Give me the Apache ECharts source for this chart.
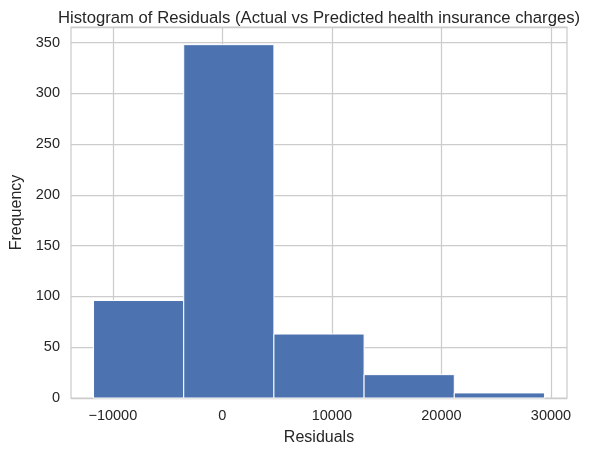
<!DOCTYPE html>
<html>
<head>
<meta charset="utf-8">
<script src="https://cdn.jsdelivr.net/npm/echarts@6/dist/echarts.min.js"></script>
<style>html,body{margin:0;padding:0;background:#fff}#c{width:603px;height:455px}</style>
</head>
<body>
<div id="c"></div>
<script>
// bin edges of the histogram (residuals)
var binEdges = [-11758, -3526, 4706, 12938, 21170, 29402];
// counts per bin
var counts = [96, 348, 63, 23, 5];
// x tick labels
var xTicks = [-10000, 0, 10000, 20000, 30000];

var data = counts.map(function (c, i) { return [binEdges[i], binEdges[i + 1], c]; });
var span = binEdges[binEdges.length - 1] - binEdges[0];
var xMin = binEdges[0] - span * 0.05;
var xMax = binEdges[binEdges.length - 1] + span * 0.05;
var yMax = Math.max.apply(null, counts) * 1.05;

var font = 'Liberation Sans, Arial, sans-serif';
var chart = echarts.init(document.getElementById('c'));
chart.setOption({
  animation: false,
  backgroundColor: '#fff',
  title: {
    text: 'Histogram of Residuals (Actual vs Predicted health insurance charges)',
    left: 314, textAlign: 'center', top: 5,
    textStyle: { fontFamily: font, fontSize: 16.7, fontWeight: 'normal', color: '#262626' }
  },
  grid: { left: 71, right: 36, top: 27, bottom: 57, show: true, borderColor: '#cccccc', borderWidth: 1.25, backgroundColor: '#fff' },
  xAxis: {
    type: 'value', min: xMin, max: xMax,
    name: 'Residuals', nameLocation: 'middle', nameGap: 32,
    nameTextStyle: { fontFamily: font, fontSize: 16, color: '#262626' },
    axisLine: { show: false },
    axisTick: { show: false, customValues: xTicks },
    axisLabel: { customValues: xTicks, fontFamily: font, fontSize: 14.5, color: '#262626', margin: 10,
      formatter: function (v) { return v < 0 ? '\u2212' + Math.abs(v) : String(v); } },
    splitLine: { show: true, lineStyle: { color: '#cccccc', width: 1.25 } }
  },
  yAxis: {
    type: 'value', min: 0, max: yMax, interval: 50,
    name: 'Frequency', nameLocation: 'middle', nameGap: 45, nameRotate: 90,
    nameTextStyle: { fontFamily: font, fontSize: 16, color: '#262626' },
    axisLine: { show: false }, axisTick: { show: false },
    axisLabel: { fontFamily: font, fontSize: 14.5, color: '#262626', margin: 11, showMaxLabel: false },
    splitLine: { show: true, lineStyle: { color: '#cccccc', width: 1.25 } }
  },
  series: [{
    type: 'custom',
    data: data,
    encode: { x: [0, 1], y: 2 },
    renderItem: function (params, api) {
      var p0 = api.coord([api.value(0), 0]);
      var p1 = api.coord([api.value(1), api.value(2)]);
      return {
        type: 'rect',
        shape: { x: p0[0], y: p1[1], width: p1[0] - p0[0], height: p0[1] - p1[1] },
        style: { fill: '#4c72b0', stroke: '#ffffff', lineWidth: 1 }
      };
    }
  }]
});
</script>
</body>
</html>
